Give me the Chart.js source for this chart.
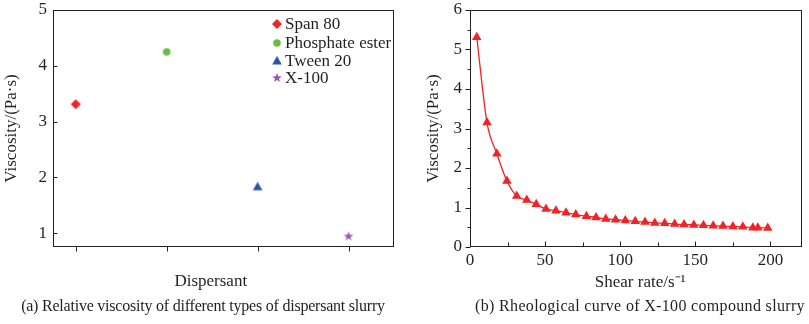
<!DOCTYPE html>
<html>
<head>
<meta charset="utf-8">
<script src="https://cdn.jsdelivr.net/npm/chart.js@4"></script>
<style>
  body { margin: 0; background: #fff; }
  #wrap { position: relative; width: 809px; height: 324px; font-family: "Liberation Serif", "Times New Roman", serif; color: #231f20; }
  #cA { position: absolute; left: 0; top: 0; }
  #cB { position: absolute; left: 400px; top: 0; }
  .cap { position: absolute; top: 296px; font-size: 16px; line-height: 20px; white-space: nowrap; transform: translateX(-50%); }
</style>
</head>
<body>
<div id="wrap">
  <canvas id="cA" width="400" height="324"></canvas>
  <canvas id="cB" width="409" height="324"></canvas>
  <div class="cap" style="left:203px;letter-spacing:-0.22px">(a) Relative viscosity of different types of dispersant slurry</div>
  <div class="cap" style="left:640px;letter-spacing:0.33px">(b) Rheological curve of X-100 compound slurry</div>
</div>
<script>
// ---------- data: (a) viscosity per dispersant ----------
const DISPERSANTS = ['Span 80', 'Phosphate ester', 'Tween 20', 'X-100'];
const VISC_A = [3.31, 4.25, 1.83, 0.94];
const COLORS_A = ['#ee2427', '#6abd45', '#2a57a5', '#a055b0'];
const SHAPES_A = ['diamond', 'circle', 'triangle', 'star'];
const Y_TICKS_A = [1, 2, 3, 4, 5];

// ---------- data: (b) rheological curve of X-100 ----------
const SHEAR = [4.5, 11.3, 17.9, 24.6, 31.1, 37.8, 44.1, 50.6, 57.2, 63.9, 70.4, 77.5, 83.9, 90.4, 96.9, 103.4,
  110, 116.5, 123, 129.6, 136.2, 142.5, 149, 155.4, 161.9, 168.4, 175, 181.6, 188.3, 191.6, 198.2];
const VISC_B = [5.31, 3.15, 2.36, 1.67, 1.29, 1.19, 1.08, 0.96, 0.92, 0.87, 0.82, 0.78, 0.75, 0.71, 0.69, 0.67,
  0.65, 0.63, 0.61, 0.60, 0.58, 0.57, 0.56, 0.55, 0.54, 0.53, 0.52, 0.51, 0.49, 0.49, 0.48];
const X_TICKS_B = [0, 50, 100, 150, 200];
const X_MINOR_B = [25, 75, 125, 175];
const Y_TICKS_B = [0, 1, 2, 3, 4, 5, 6];
const Y_MINOR_B = [0.5, 1.5, 2.5, 3.5, 4.5, 5.5];

const INK = '#231f20';
const FONT = '"Liberation Serif", "Times New Roman", serif';
const RED = '#ee2427';

// ---------- marker sprites (used as pointStyle and in the legend) ----------
function markCanvas(shape, color, r) {
  const s = Math.ceil(r * 2 + 2);
  const c = document.createElement('canvas');
  c.width = c.height = s;
  const g = c.getContext('2d');
  const cx = s / 2, cy = s / 2;
  g.fillStyle = color;
  g.beginPath();
  if (shape === 'diamond') {
    g.moveTo(cx, cy - r); g.lineTo(cx + r, cy); g.lineTo(cx, cy + r); g.lineTo(cx - r, cy);
  } else if (shape === 'circle') {
    g.arc(cx, cy, r * 0.75, 0, Math.PI * 2);
  } else if (shape === 'triangle') {
    g.moveTo(cx, cy - r); g.lineTo(cx + r * 0.95, cy + r * 0.7); g.lineTo(cx - r * 0.95, cy + r * 0.7);
  } else {
    for (let i = 0; i < 10; i++) {
      const a = -Math.PI / 2 + i * Math.PI / 5;
      const rr = i % 2 ? r * 0.42 : r;
      g.lineTo(cx + Math.cos(a) * rr, cy + Math.sin(a) * rr);
    }
  }
  g.closePath();
  g.fill();
  return c;
}
const MARKS_A = SHAPES_A.map((s, i) => markCanvas(s, COLORS_A[i], 5));

// ---------- frame + tick marks drawn through the scales ----------
const frameTicks = {
  id: 'frameTicks',
  afterDraw(chart, args, o) {
    const { ctx, chartArea: a, scales } = chart;
    const L = Math.round(a.left) + 0.5, R = Math.round(a.right) - 0.5;
    const T = Math.round(a.top) + 0.5, B = Math.round(a.bottom) - 0.5;
    ctx.save();
    ctx.strokeStyle = INK;
    ctx.lineWidth = 1;
    ctx.strokeRect(L, T, R - L, B - T);
    ctx.beginPath();
    (o.y || []).forEach(t => {
      const dir = t.inward ? 1 : -1;
      t.values.forEach(v => {
        const y = Math.round(scales.y.getPixelForValue(v)) + 0.5;
        ctx.moveTo(L, y); ctx.lineTo(L + dir * t.len, y);
      });
    });
    (o.x || []).forEach(t => {
      const dir = t.inward ? -1 : 1;
      t.values.forEach(v => {
        const x = Math.round(scales.x.getPixelForValue(v)) + 0.5;
        ctx.moveTo(x, B); ctx.lineTo(x, B + dir * t.len);
      });
    });
    ctx.stroke();
    ctx.restore();
  }
};

// ---------- legend inside the plot of (a) ----------
const legendA = {
  id: 'legendA',
  afterDraw(chart) {
    const { ctx } = chart;
    ctx.save();
    ctx.font = '17px ' + FONT;
    ctx.fillStyle = INK;
    ctx.textBaseline = 'middle';
    const rows = [24, 43, 61, 78];
    DISPERSANTS.forEach((name, i) => {
      const m = MARKS_A[i];
      ctx.drawImage(m, 277 - m.width / 2, rows[i] - m.height / 2);
      ctx.fillText(name, 285, rows[i] + 1);
    });
    ctx.restore();
  }
};

const tickFont = { family: FONT, size: 17 };
const fixY = w => s => { s.width = w; s.paddingTop = 0; s.paddingBottom = 0; };
const fixX = h => s => { s.height = h; s.paddingLeft = 0; s.paddingRight = 0; };

// ---------- chart (a) ----------
new Chart(document.getElementById('cA'), {
  type: 'scatter',
  data: {
    datasets: DISPERSANTS.map((name, i) => ({
      label: name,
      data: [{ x: i, y: VISC_A[i] }],
      pointStyle: MARKS_A[i],
      pointRadius: 5,
      backgroundColor: COLORS_A[i],
      borderColor: COLORS_A[i]
    }))
  },
  options: {
    responsive: false,
    animation: false,
    layout: { padding: { top: 10, right: 3, left: 0, bottom: 0 } },
    plugins: {
      legend: { display: false },
      tooltip: { enabled: false },
      frameTicks: {
        y: [{ values: Y_TICKS_A, len: 4, inward: true }],
        x: [{ values: [0, 1, 2, 3], len: 5, inward: false }]
      }
    },
    scales: {
      x: {
        type: 'linear', min: -0.25, max: 3.5,
        grid: { display: false, drawTicks: false },
        border: { display: false },
        ticks: { display: false },
        title: { display: true, text: 'Dispersant\u00a0\u00a0\u00a0\u00a0\u00a0\u00a0', color: INK, font: tickFont, padding: { top: 0, bottom: 32 } },
        afterFit: fixX(77)
      },
      y: {
        min: 0.75, max: 5,
        grid: { display: false, drawTicks: false },
        border: { display: false },
        ticks: { color: INK, font: tickFont, padding: 6 },
        afterBuildTicks: s => { s.ticks = Y_TICKS_A.map(v => ({ value: v })); },
        title: { display: true, text: 'Viscosity/(Pa·s)', color: INK, font: tickFont, padding: { top: 1, bottom: 0 } },
        afterFit: fixY(53)
      }
    }
  },
  plugins: [frameTicks, legendA]
});

// ---------- chart (b) ----------
new Chart(document.getElementById('cB'), {
  type: 'line',
  data: {
    datasets: [{
      label: 'X-100',
      data: SHEAR.map((x, i) => ({ x, y: VISC_B[i] })),
      borderColor: RED,
      backgroundColor: RED,
      borderWidth: 1.3,
      cubicInterpolationMode: 'monotone',
      pointStyle: 'triangle',
      pointRadius: 5.5,
      pointBorderWidth: 0,
      fill: false
    }]
  },
  options: {
    responsive: false,
    animation: false,
    layout: { padding: { top: 10, right: 7, left: 0, bottom: 0 } },
    plugins: {
      legend: { display: false },
      tooltip: { enabled: false },
      frameTicks: {
        y: [{ values: Y_TICKS_B, len: 5, inward: false }, { values: Y_MINOR_B, len: 3, inward: false }],
        x: [{ values: X_TICKS_B, len: 5, inward: true }, { values: X_MINOR_B, len: 4, inward: true }]
      }
    },
    scales: {
      x: {
        type: 'linear', min: 0, max: 221,
        grid: { display: false, drawTicks: false },
        border: { display: false },
        ticks: { color: INK, font: tickFont, padding: 3, maxRotation: 0 },
        afterBuildTicks: s => { s.ticks = X_TICKS_B.map(v => ({ value: v })); },
        title: { display: true, text: '\u00a0\u00a0Shear rate/s⁻¹', color: INK, font: tickFont, padding: { top: 0, bottom: 31 } },
        afterFit: fixX(77)
      },
      y: {
        min: 0, max: 6,
        grid: { display: false, drawTicks: false },
        border: { display: false },
        ticks: { color: INK, font: tickFont, padding: 8 },
        afterBuildTicks: s => { s.ticks = Y_TICKS_B.map(v => ({ value: v })); },
        title: { display: true, text: 'Viscosity/(Pa·s)', color: INK, font: tickFont, padding: { top: 23, bottom: 0 } },
        afterFit: fixY(70)
      }
    }
  },
  plugins: [frameTicks]
});
</script>
</body>
</html>
